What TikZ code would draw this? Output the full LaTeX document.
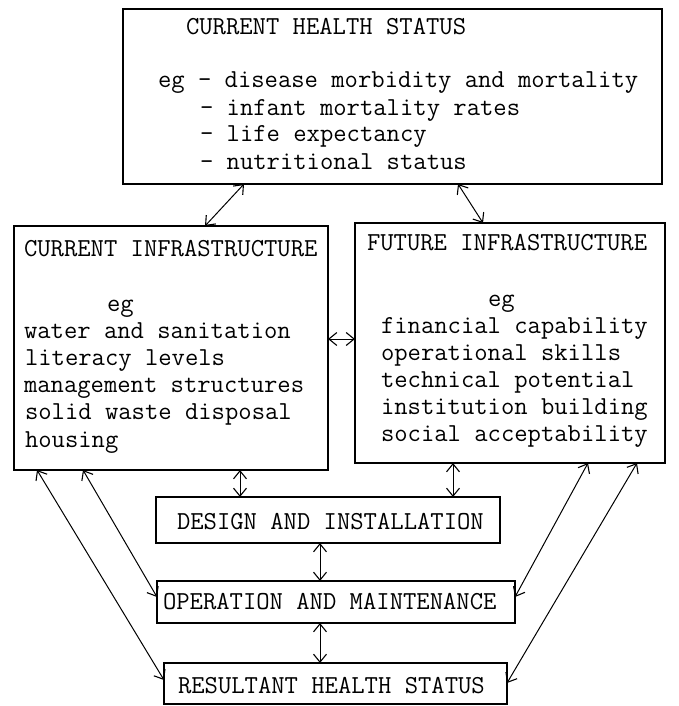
\documentclass[tikz,border=0pt]{standalone}
\usetikzlibrary{arrows.meta,calc}
\newcommand\boxfont{\ttfamily\fontsize{25.9pt}{27pt}\selectfont}
\begin{document}
\begin{tikzpicture}[x=1pt,y=-1pt,
  box/.style={draw,line width=1.2pt,inner sep=0pt,outer sep=0pt,anchor=north west},
  txt/.style={anchor=base west,inner sep=0pt,outer sep=0pt,font=\boxfont},
  barb/.tip={Straight Barb[length=8pt,width=13pt,line width=1.1pt]},
  link/.style={line width=1pt,barb-barb}]
\useasboundingbox[fill=white] (0,0) rectangle (678,706);

% boxes
\node[box,minimum width=539pt,minimum height=175pt] (top) at (123,9) {};
\node[box,minimum width=314pt,minimum height=244pt] (cur) at (14,226) {};
\node[box,minimum width=310pt,minimum height=240pt] (fut) at (355,223) {};
\node[box,minimum width=344pt,minimum height=46pt] (des) at (156,497) {};
\node[box,minimum width=358pt,minimum height=42pt] (op) at (157,581) {};
\node[box,minimum width=343pt,minimum height=41pt] (res) at (164,663) {};

% current health status
\node[txt] (h0) at (186,35) {CURRENT HEALTH STATUS};
\node[txt] (h1) at (158,88) {eg - disease morbidity and mortality};
\node[txt] (h2) at (200,115) {- infant mortality rates};
\node[txt] (h3) at (200,142) {- life expectancy};
\node[txt] (h4) at (200,169) {- nutritional status};

% current infrastructure
\node[txt] (c0) at (24,256) {CURRENT INFRASTRUCTURE};
\node[txt] (c1) at (107,311) {eg};
\node[txt] (c2) at (24,338) {water and sanitation};
\node[txt] (c3) at (25,365) {literacy levels};
\node[txt] (c4) at (24,392) {management structures};
\node[txt] (c5) at (25,419) {solid waste disposal};
\node[txt] (c6) at (25,447) {housing};

% future infrastructure
\node[txt] (f0) at (367,250) {FUTURE INFRASTRUCTURE};
\node[txt] (f1) at (488,306) {eg};
\node[txt] (f2) at (381,333) {financial capability};
\node[txt] (f3) at (381,360) {operational skills};
\node[txt] (f4) at (381,387) {technical potential};
\node[txt] (f5) at (381,414) {institution building};
\node[txt] (f6) at (381,441) {social acceptability};

% stages
\node[txt] (d0) at (177,529) {DESIGN AND INSTALLATION};
\node[txt] (o0) at (163,609) {OPERATION AND MAINTENANCE};
\node[txt] (r0) at (178,693) {RESULTANT HEALTH STATUS};

% two-way links
\draw[link] ($(top.south west)+(121,0)$) -- ($(cur.north west)+(191,0)$);
\draw[link] ($(top.south west)+(335,0)$) -- ($(fut.north west)+(128,0)$);
\draw[link] ($(cur.north east)+(0,113)$) -- ($(fut.north west)+(0,116)$);
\draw[link] ($(cur.south west)+(226,0)$) -- ($(des.north west)+(84,0)$);
\draw[link] ($(fut.south west)+(98,0)$) -- ($(des.north west)+(297,0)$);
\draw[link] ($(des.south west)+(164,0)$) -- ($(op.north west)+(163,0)$);
\draw[link] ($(op.south west)+(163,0)$) -- ($(res.north west)+(156,0)$);
\draw[link] ($(cur.south west)+(23,0)$) -- ($(res.north west)+(0,17)$);
\draw[link] ($(cur.south west)+(69,0)$) -- ($(op.north west)+(0,16)$);
\draw[link] ($(fut.south west)+(233,0)$) -- ($(op.north east)+(0,16)$);
\draw[link] ($(fut.south west)+(282,0)$) -- ($(res.north east)+(0,20)$);
\end{tikzpicture}
\end{document}
